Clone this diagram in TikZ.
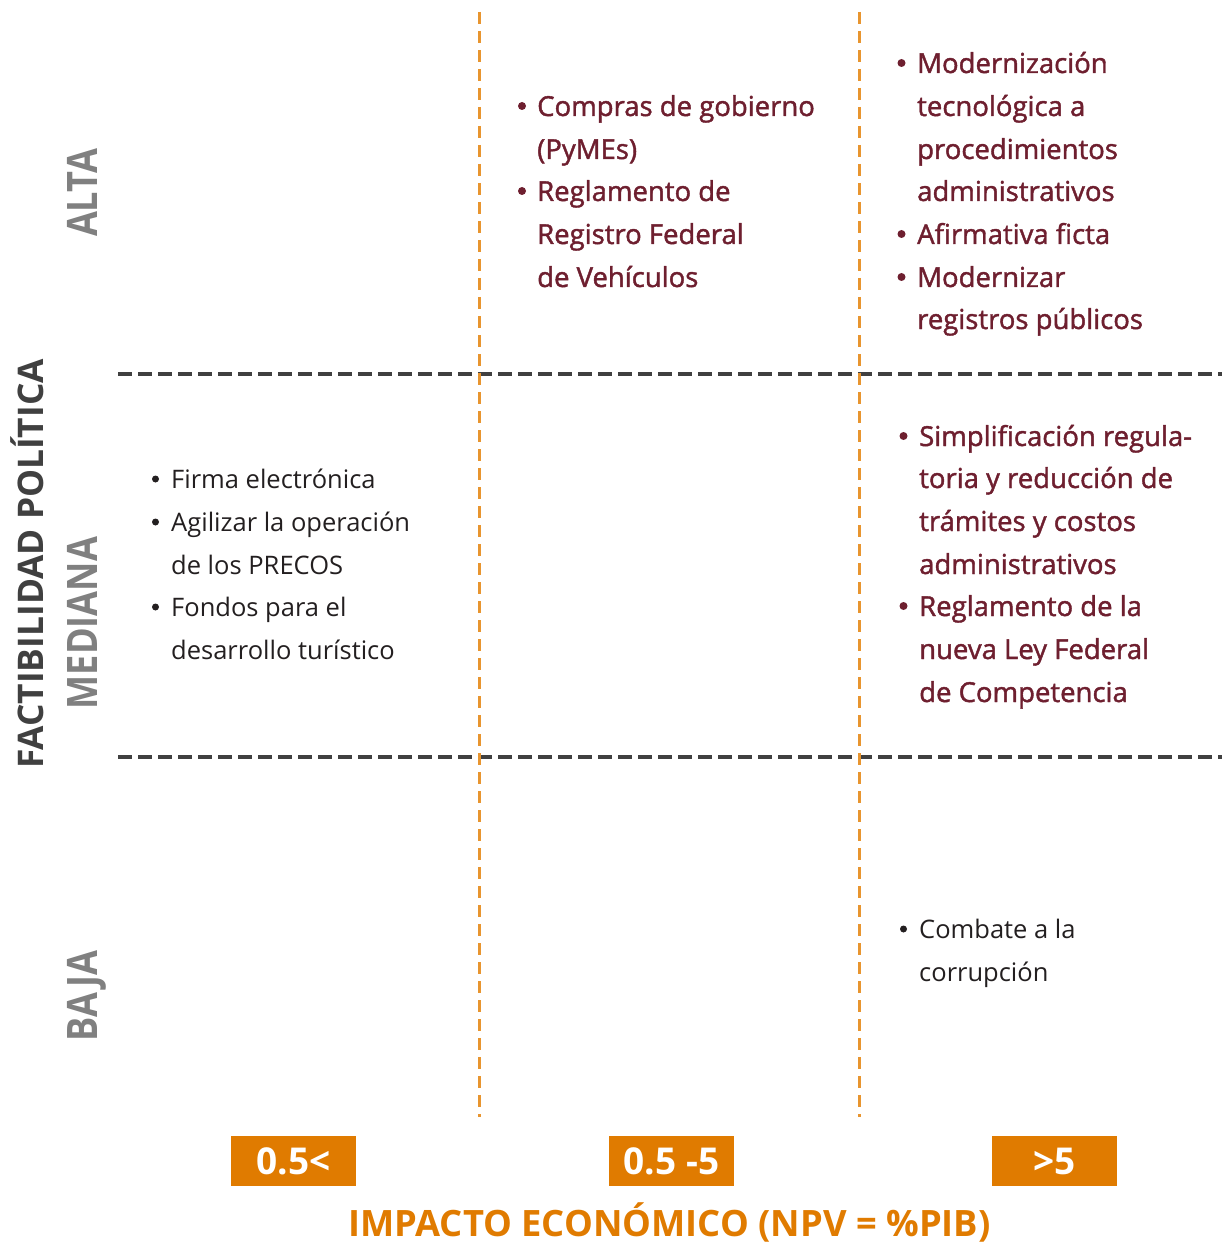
\documentclass[tikz,border=0pt]{standalone}
\usepackage{fontspec}
\setmainfont{Open Sans}
\newfontfamily\semib{Open Sans}[FakeBold=1.5]
\newfontfamily\rowfont{Open Sans}[FakeStretch=0.86]
\definecolor{wine}{HTML}{6E1F2F}
\definecolor{ink}{HTML}{231F20}
\definecolor{dashgray}{HTML}{404040}
\definecolor{lblgray}{HTML}{808080}
\definecolor{orgline}{HTML}{E8952F}
\definecolor{orgbox}{HTML}{E07B00}
\begin{document}
\begin{tikzpicture}[x=1pt,y=-1pt,
  redtxt/.style={anchor=base west, inner sep=0pt, text=wine, font=\semib\fontsize{27.5}{27.5}\selectfont},
  blktxt/.style={anchor=base west, inner sep=0pt, text=ink, font=\fontsize{25.5}{25.5}\selectfont},
  redbul/.style={circle, fill=wine, minimum size=8pt, inner sep=0pt},
  blkbul/.style={circle, fill=ink, minimum size=7pt, inner sep=0pt},
  rowlbl/.style={anchor=base, rotate=90, inner sep=0pt, text=lblgray, font=\rowfont\bfseries\fontsize{42}{42}\selectfont},
  vline/.style={draw=orgline, line width=3pt, dash pattern=on 12pt off 7pt},
  hline/.style={draw=dashgray, line width=3.5pt, dash pattern=on 14pt off 6pt},
  rangebox/.style={fill=orgbox, minimum width=125pt, minimum height=50pt, inner sep=0pt, text=white, font=\bfseries\fontsize{37}{37}\selectfont}
]
\useasboundingbox (0,0) rectangle (1226,1246);

% grid lines
\coordinate (v1t) at (479,12);  \coordinate (v1b) at (479,1117);
\coordinate (v2t) at (859,12);  \coordinate (v2b) at (859,1117);
\coordinate (h1l) at (118,374); \coordinate (h1r) at (1222,374);
\coordinate (h2l) at (118,757); \coordinate (h2r) at (1222,757);
\draw[hline] (h1l) -- (h1r);
\draw[hline] (h2l) -- (h2r);
\draw[vline] (v1t) -- (v1b);
\draw[vline] (v2t) -- (v2b);

% axis labels
\node[anchor=base, rotate=90, inner sep=0pt, text=dashgray, font=\bfseries\fontsize{35.3}{35.3}\selectfont] (yaxis) at (43,564) {FACTIBILIDAD POLÍTICA};
\node[rowlbl] (alta) at (97,193) {ALTA};
\node[rowlbl] (mediana) at (97,623) {MEDIANA};
\node[rowlbl] (baja) at (97,996) {BAJA};

% column 2, top
\node[redbul] (a1b) at (522,106) {};
\node[redtxt] (a1) at (537,116) {Compras de gobierno};
\node[redtxt] (a2) at (537,159) {(PyMEs)};
\node[redbul] (a3b) at (522,191) {};
\node[redtxt] (a3) at (537,201) {Reglamento de};
\node[redtxt] (a4) at (537,244) {Registro Federal};
\node[redtxt] (a5) at (537,287) {de Vehículos};

% column 3, top
\node[redbul] (b1b) at (901.5,63) {};
\node[redtxt] (b1) at (917,73) {Modernización};
\node[redtxt] (b2) at (917,116) {tecnológica a};
\node[redtxt] (b3) at (917,159) {procedimientos};
\node[redtxt] (b4) at (917,201) {administrativos};
\node[redbul] (b5b) at (901.5,234) {};
\node[redtxt] (b5) at (917,244) {Afirmativa ficta};
\node[redbul] (b6b) at (901.5,277) {};
\node[redtxt] (b6) at (917,287) {Modernizar};
\node[redtxt] (b7) at (917,329) {registros públicos};

% column 3, middle
\node[redbul] (c1b) at (903.5,436) {};
\node[redtxt] (c1) at (919,446) {Simplificación regula-};
\node[redtxt] (c2) at (919,488) {toria y reducción de};
\node[redtxt] (c3) at (919,531) {trámites y costos};
\node[redtxt] (c4) at (919,574) {administrativos};
\node[redbul] (c5b) at (903.5,606) {};
\node[redtxt] (c5) at (919,616) {Reglamento de la};
\node[redtxt] (c6) at (919,659) {nueva Ley Federal};
\node[redtxt] (c7) at (919,702) {de Competencia};

% column 1, middle
\node[blkbul] (d1b) at (155.5,479) {};
\node[blktxt] (d1) at (171,488) {Firma electrónica};
\node[blkbul] (d2b) at (155.5,522) {};
\node[blktxt] (d2) at (171,531) {Agilizar la operación};
\node[blktxt] (d3) at (171,574) {de los PRECOS};
\node[blkbul] (d4b) at (155.5,607) {};
\node[blktxt] (d4) at (171,616) {Fondos para el};
\node[blktxt] (d5) at (171,659) {desarrollo turístico};

% column 3, bottom
\node[blkbul] (e1b) at (903.5,929) {};
\node[blktxt] (e1) at (919,938) {Combate a la};
\node[blktxt] (e2) at (919,981) {corrupción};

% range boxes
\node[rangebox] (r1) at (293.5,1161) {0.5<};
\node[rangebox] (r2) at (671.5,1161) {0.5 -5};
\node[rangebox] (r3) at (1054.5,1161) {>5};

\node[anchor=base, inner sep=0pt, text=orgbox, font=\bfseries\fontsize{36.3}{36.3}\selectfont] (xaxis) at (669.5,1236) {IMPACTO ECONÓMICO (NPV = \%PIB)};
\end{tikzpicture}
\end{document}
